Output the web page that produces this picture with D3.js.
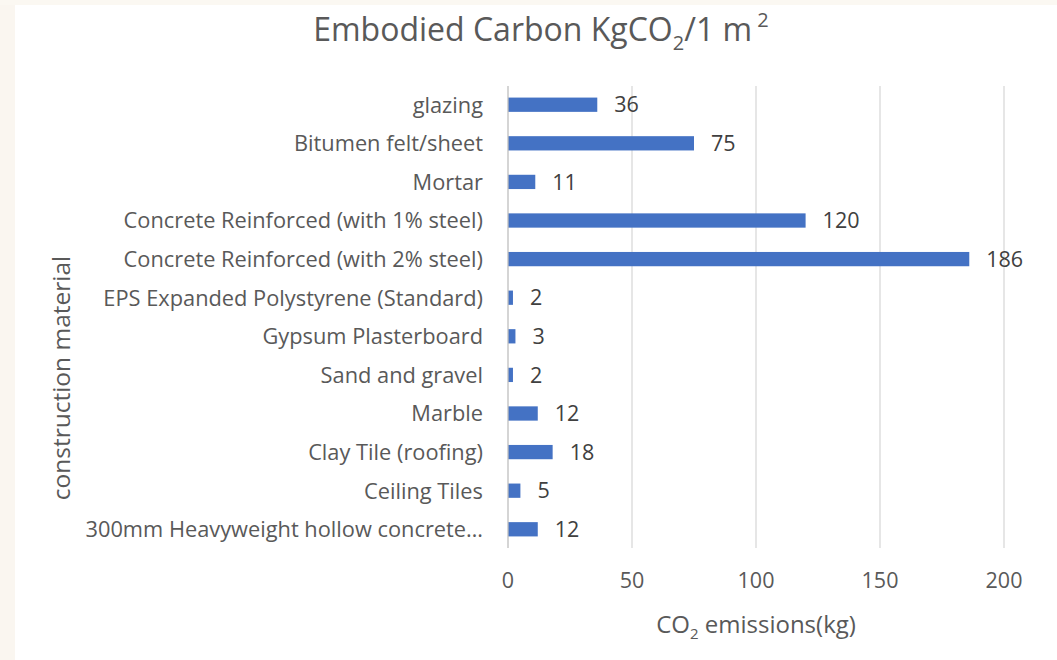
<!DOCTYPE html>
<html>
<head>
<meta charset="utf-8">
<script src="https://d3js.org/d3.v7.min.js"></script>
<style>
  body { margin: 0; background: #ffffff; }
  svg { display: block; }
  text { font-family: "Open Sans", "Noto Sans", sans-serif; }
</style>
</head>
<body>
<script>
// chart data
const materials = [
  "glazing",
  "Bitumen felt/sheet",
  "Mortar",
  "Concrete Reinforced (with 1% steel)",
  "Concrete Reinforced (with 2% steel)",
  "EPS Expanded Polystyrene (Standard)",
  "Gypsum Plasterboard",
  "Sand and gravel",
  "Marble",
  "Clay Tile (roofing)",
  "Ceiling Tiles",
  "300mm Heavyweight hollow concrete…"
];
const emissions = [36, 75, 11, 120, 186, 2, 3, 2, 12, 18, 5, 12];
const xTicks = [0, 50, 100, 150, 200];

const width = 1057;
const height = 660;
const marginLeft = 508;
const marginRight = 53;
const marginTop = 86;
const marginBottom = 112;

const svg = d3.select("body").append("svg")
  .attr("width", width)
  .attr("height", height);

// faint page border strips like the screenshot
svg.append("rect").attr("x", 0).attr("y", 0).attr("width", 15).attr("height", height).attr("fill", "#faf6f0");
svg.append("rect").attr("x", 0).attr("y", 0).attr("width", width).attr("height", 5).attr("fill", "#fbf8f2");

const x = d3.scaleLinear()
  .domain([0, 200])
  .range([marginLeft, width - marginRight]);

const y = d3.scaleBand()
  .domain(materials)
  .range([marginTop, height - marginBottom])
  .paddingInner(0.63)
  .paddingOuter(0.3);

// gridlines
svg.append("g")
  .selectAll("line")
  .data(xTicks.slice(1))
  .join("line")
  .attr("x1", d => x(d)).attr("x2", d => x(d))
  .attr("y1", marginTop).attr("y2", height - marginBottom)
  .attr("stroke", "#d9d9d9")
  .attr("stroke-width", 1.3);

// bars
svg.append("g")
  .selectAll("rect")
  .data(emissions)
  .join("rect")
  .attr("x", x(0))
  .attr("y", (d, i) => y(materials[i]))
  .attr("width", d => x(d) - x(0))
  .attr("height", y.bandwidth())
  .attr("fill", "#4472c4");

// zero axis line
svg.append("line")
  .attr("x1", x(0)).attr("x2", x(0))
  .attr("y1", marginTop).attr("y2", height - marginBottom)
  .attr("stroke", "#bfbfbf")
  .attr("stroke-width", 1.3);

// value labels
svg.append("g")
  .selectAll("text")
  .data(emissions)
  .join("text")
  .attr("x", d => x(d) + 17)
  .attr("y", (d, i) => y(materials[i]) + y.bandwidth() / 2)
  .attr("dy", "0.36em")
  .attr("font-size", 21.5)
  .attr("fill", "#404040")
  .text(d => d);

// category labels
svg.append("g")
  .selectAll("text")
  .data(materials)
  .join("text")
  .attr("x", 483)
  .attr("y", d => y(d) + y.bandwidth() / 2)
  .attr("dy", "0.36em")
  .attr("text-anchor", "end")
  .attr("font-size", 21.8)
  .attr("fill", "#595959")
  .text(d => d);

// x tick labels
svg.append("g")
  .selectAll("text")
  .data(xTicks)
  .join("text")
  .attr("x", d => x(d))
  .attr("y", 588)
  .attr("text-anchor", "middle")
  .attr("font-size", 21.5)
  .attr("fill", "#595959")
  .text(d => d);

// x axis title
const xt = svg.append("text")
  .attr("x", 756)
  .attr("y", 633)
  .attr("text-anchor", "middle")
  .attr("font-size", 24)
  .attr("fill", "#595959");
xt.append("tspan").text("CO");
xt.append("tspan").attr("font-size", 15).attr("dy", 6).text("2");
xt.append("tspan").attr("dy", -6).text(" emissions(kg)");

// y axis title
svg.append("text")
  .attr("transform", "translate(70,378) rotate(-90)")
  .attr("text-anchor", "middle")
  .attr("font-size", 24.5)
  .attr("fill", "#595959")
  .text("construction material");

// chart title
const title = svg.append("text")
  .attr("x", 541)
  .attr("y", 41)
  .attr("text-anchor", "middle")
  .attr("font-size", 32)
  .attr("fill", "#595959");
title.append("tspan").text("Embodied Carbon KgCO");
title.append("tspan").attr("font-size", 20).attr("dy", 9).text("2");
title.append("tspan").attr("dy", -9).text("/1 m");
title.append("tspan").attr("font-size", 20).attr("dy", -14).text(" 2");
</script>
</body>
</html>
